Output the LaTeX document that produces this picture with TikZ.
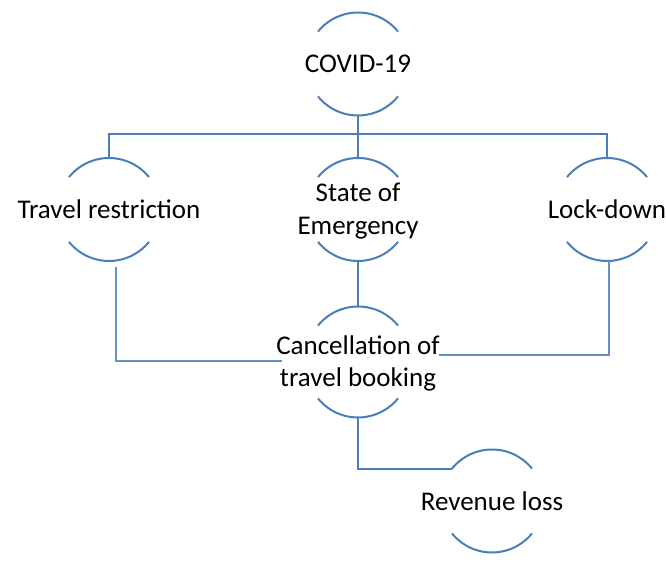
\documentclass[tikz,border=0pt]{standalone}
\usepackage{fontspec}
\setmainfont{Carlito}
\definecolor{ringblue}{RGB}{74,126,187}
\begin{document}
\begin{tikzpicture}[x=0.5pt,y=0.5pt,
  lbl/.style={font=\fontsize{13.5}{16.25}\selectfont, text=black, align=center, inner sep=0pt},
  ring/.style={draw=ringblue, line width=1pt},
  link/.style={draw=ringblue, line width=1pt},
  thinlink/.style={draw=ringblue!85, line width=0.6pt}]
\useasboundingbox (0,0) rectangle (666,573);
% nodes
\node[lbl] (covid)   at (358,509)   {COVID-19};
\node[lbl] (travel)  at (109,363.5) {Travel restriction};
\node[lbl] (state)   at (358,362) {State of\\Emergency};
\node[lbl] (lock)    at (607,363.5) {Lock-down};
\node[lbl] (cancel)  at (358,209.5)   {Cancellation of\\travel booking};
\node[lbl] (revenue) at (492,72)    {Revenue loss};
% broken circles
\foreach \n in {covid,travel,lock,revenue}{
  \draw[ring] ([shift={(39:25.75pt)}]\n.center) arc[start angle=39,end angle=141,radius=25.75pt];
  \draw[ring] ([shift={(219:25.75pt)}]\n.center) arc[start angle=219,end angle=321,radius=25.75pt];
}
\draw[ring] ([shift={(39:25.75pt)},yshift=0.75pt]state.center) arc[start angle=39,end angle=141,radius=25.75pt];
\draw[ring] ([shift={(219:25.75pt)},yshift=0.75pt]state.center) arc[start angle=219,end angle=321,radius=25.75pt];
\draw[ring] ([shift={(39:25.75pt)},yshift=2.75pt]cancel.center) arc[start angle=39,end angle=141,radius=25.75pt];
\draw[ring] ([shift={(219:25.75pt)},yshift=-1.25pt]cancel.center) arc[start angle=219,end angle=321,radius=25.75pt];
% connectors
\coordinate (bus) at (358,439);
\coordinate (cl) at (282,212);
\coordinate (cr) at (439,218);
\draw[link] ([yshift=-25.75pt]covid.center) -- (bus);
\draw[link] ([yshift=25.75pt]travel.center) |- (bus) -| ([yshift=25.75pt]lock.center);
\draw[link] (bus) -- ([yshift=26.5pt]state.center);
\draw[link] ([yshift=-25pt]state.center) -- ([yshift=28.5pt]cancel.center);
\draw[thinlink] ([xshift=3.5pt,yshift=-29pt]travel.center) |- (cl);
\draw[thinlink] ([xshift=1pt,yshift=-25.75pt]lock.center) |- (cr);
\draw[link] ([yshift=-27pt]cancel.center) |- ([shift={(141:25.75pt)}]revenue.center);
\end{tikzpicture}
\end{document}
